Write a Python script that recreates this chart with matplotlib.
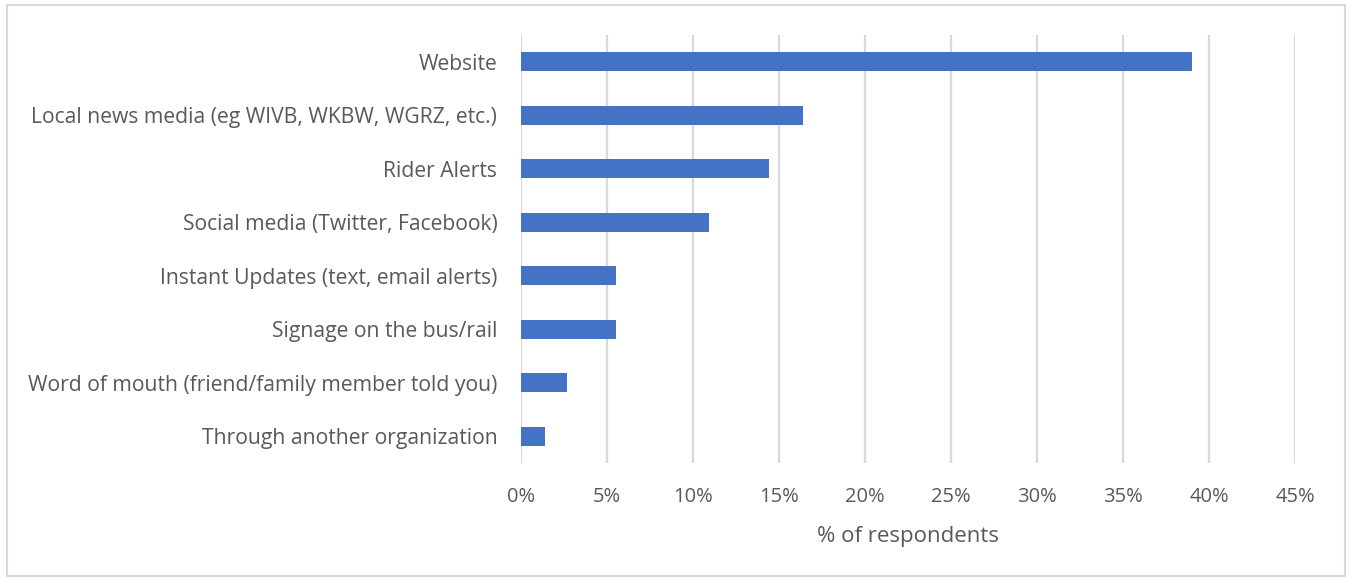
import matplotlib.pyplot as plt
from matplotlib.patches import Rectangle
from matplotlib.ticker import PercentFormatter

categories = [
    "Website",
    "Local news media (eg WIVB, WKBW, WGRZ, etc.)",
    "Rider Alerts",
    "Social media (Twitter, Facebook)",
    "Instant Updates (text, email alerts)",
    "Signage on the bus/rail",
    "Word of mouth (friend/family member told you)",
    "Through another organization",
]
values = [39.0, 16.4, 14.4, 10.9, 5.5, 5.5, 2.7, 1.4]
xticks = [0, 5, 10, 15, 20, 25, 30, 35, 40, 45]

plt.rcParams['font.family'] = ['Open Sans', 'DejaVu Sans']
grey = "#595959"

fig = plt.figure(figsize=(13.49, 5.78), dpi=100)
ax = fig.add_axes([0.3862, 0.199, 0.5740, 0.7404])

ypos = list(range(len(categories)))[::-1]
ax.barh(ypos, values, height=0.36, color="#4472C4", zorder=3)

ax.set_xlim(0, 45)
ax.set_ylim(-0.5, len(categories) - 0.5)
ax.set_xticks(xticks)
ax.xaxis.set_major_formatter(PercentFormatter(decimals=0))
ax.set_yticks(ypos)
ax.set_yticklabels(categories, fontsize=15.2)

ax.grid(axis="x", color="#d9d9d9", linewidth=1.6, zorder=0)
for s in ax.spines.values():
    s.set_visible(False)
ax.tick_params(axis="both", length=0, colors=grey)
ax.tick_params(axis="x", labelsize=14.5, pad=17)
ax.tick_params(axis="y", pad=17)
ax.set_xlabel("% of respondents", color=grey, fontsize=16, labelpad=14)

fig.patches.append(Rectangle((0.005, 0.004), 0.992, 0.988, transform=fig.transFigure,
                             fill=False, edgecolor="#d9d9d9", linewidth=1.5))

fig.savefig("out.png", dpi=100)
